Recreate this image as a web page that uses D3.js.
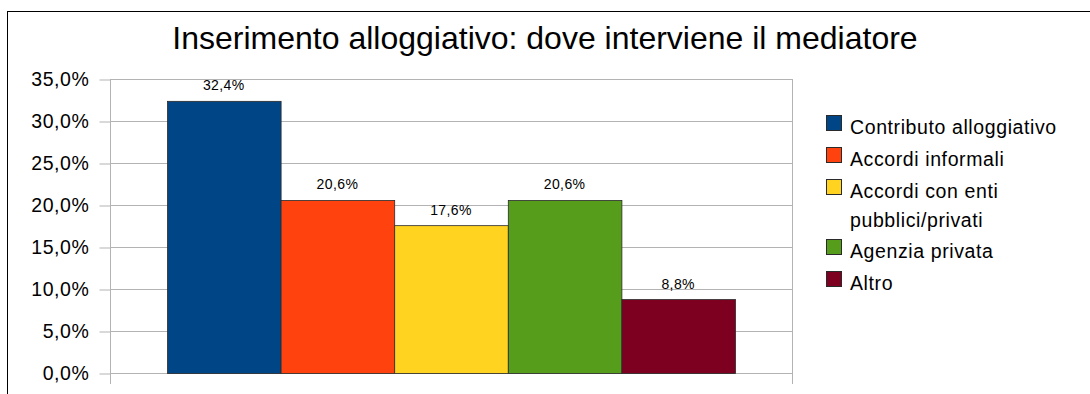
<!DOCTYPE html>
<html>
<head>
<meta charset="utf-8">
<script src="https://cdn.jsdelivr.net/npm/d3@7"></script>
<style>
  html, body { margin: 0; padding: 0; background: #fff; }
  svg { display: block; font-family: "Liberation Sans", Arial, sans-serif; }
</style>
</head>
<body>
<svg id="chart" width="1090" height="394"></svg>
<script>
// Dataset
const categories = ["Contributo alloggiativo", "Accordi informali", "Accordi con enti pubblici/privati", "Agenzia privata", "Altro"];
const legendLines = [["Contributo alloggiativo"], ["Accordi informali"], ["Accordi con enti", "pubblici/privati"], ["Agenzia privata"], ["Altro"]];
const values = [32.4, 20.6, 17.6, 20.6, 8.8];
const colors = ["#004586", "#ff420e", "#ffd320", "#579d1c", "#7e0021"];
const yTicks = [0, 5, 10, 15, 20, 25, 30, 35];
const titleText = "Inserimento alloggiativo: dove interviene il mediatore";

const fmt = v => d3.format(".1f")(v).replace(".", ",") + "%";

const svg = d3.select("#chart");

// Outer frame (runs past the right and bottom edges)
svg.append("rect")
  .attr("x", 7.5).attr("y", 11.5)
  .attr("width", 1200).attr("height", 500)
  .attr("fill", "#fff").attr("stroke", "#000").attr("stroke-width", 1);

// Title
svg.append("text")
  .attr("x", 545).attr("y", 49)
  .attr("text-anchor", "middle")
  .attr("font-size", 32)
  .attr("fill", "#000")
  .text(titleText);

// Plot geometry
const plotLeft = 110, plotRight = 792, plotTop = 79, plotBottom = 373;

const y = d3.scaleLinear().domain([0, 35]).range([plotBottom, plotTop]);
const xOuter = d3.scaleBand().domain(["group"]).range([plotLeft, plotRight]).paddingInner(0).paddingOuter(0);
const xInner = d3.scaleBand().domain(categories)
  .range([xOuter("group") + 57, xOuter("group") + xOuter.bandwidth() - 57]).padding(0);

const grid = "#b3b3b3";

// Horizontal gridlines
svg.append("g").selectAll("line")
  .data(yTicks.filter(t => t > 0))
  .join("line")
  .attr("x1", plotLeft).attr("x2", plotRight)
  .attr("y1", d => Math.round(y(d)) + 0.5).attr("y2", d => Math.round(y(d)) + 0.5)
  .attr("stroke", grid).attr("stroke-width", 1);

// Y axis with outer tick marks and labels
const yAxis = d3.axisLeft(y).tickValues(yTicks).tickSize(11).tickPadding(10).tickFormat(fmt);
const gy = svg.append("g").attr("transform", `translate(${plotLeft + 0.5},0.5)`).call(yAxis);
gy.select(".domain").remove();
gy.selectAll(".tick line").attr("stroke", grid);
gy.selectAll(".tick text")
  .attr("font-size", 19.5)
  .attr("letter-spacing", 0.6)
  .attr("fill", "#000")
  .attr("font-family", "'Liberation Sans', Arial, sans-serif");

// Axis lines: left, bottom, right border with short drop ticks
svg.append("line").attr("x1", plotLeft + 0.5).attr("x2", plotLeft + 0.5).attr("y1", plotTop).attr("y2", 384).attr("stroke", grid);
svg.append("line").attr("x1", plotRight + 0.5).attr("x2", plotRight + 0.5).attr("y1", plotTop).attr("y2", 384).attr("stroke", grid);
svg.append("line").attr("x1", plotLeft).attr("x2", plotRight).attr("y1", plotBottom + 0.5).attr("y2", plotBottom + 0.5).attr("stroke", grid);

// Bars
svg.append("g").selectAll("rect")
  .data(values)
  .join("rect")
  .attr("x", (d, i) => xInner(categories[i]) + 0.5)
  .attr("width", xInner.bandwidth())
  .attr("y", d => y(d) + 0.5)
  .attr("height", d => y(0) - y(d))
  .attr("fill", (d, i) => colors[i])
  .attr("stroke", "#2a2a2a").attr("stroke-width", 0.8);

// Value labels
svg.append("g").selectAll("text")
  .data(values)
  .join("text")
  .attr("x", (d, i) => xInner(categories[i]) + xInner.bandwidth() / 2)
  .attr("y", d => y(d) - 10.5)
  .attr("text-anchor", "middle")
  .attr("font-size", 14)
  .attr("letter-spacing", 0.4)
  .attr("fill", "#000")
  .text(fmt);

// Legend
const legendRows = [134, 166, 198, 258, 290];
const lg = svg.append("g");
legendLines.forEach((lines, i) => {
  lg.append("rect")
    .attr("x", 826.5).attr("y", legendRows[i] - 18.5)
    .attr("width", 15).attr("height", 15)
    .attr("fill", colors[i]).attr("stroke", "#2a2a2a").attr("stroke-width", 1);
  const t = lg.append("text")
    .attr("x", 850).attr("y", legendRows[i])
    .attr("font-size", 19.5)
    .attr("letter-spacing", 0.6)
    .attr("fill", "#000");
  lines.forEach((line, j) => {
    t.append("tspan").attr("x", 850).attr("dy", j === 0 ? 0 : 29).text(line);
  });
});
</script>
</body>
</html>
